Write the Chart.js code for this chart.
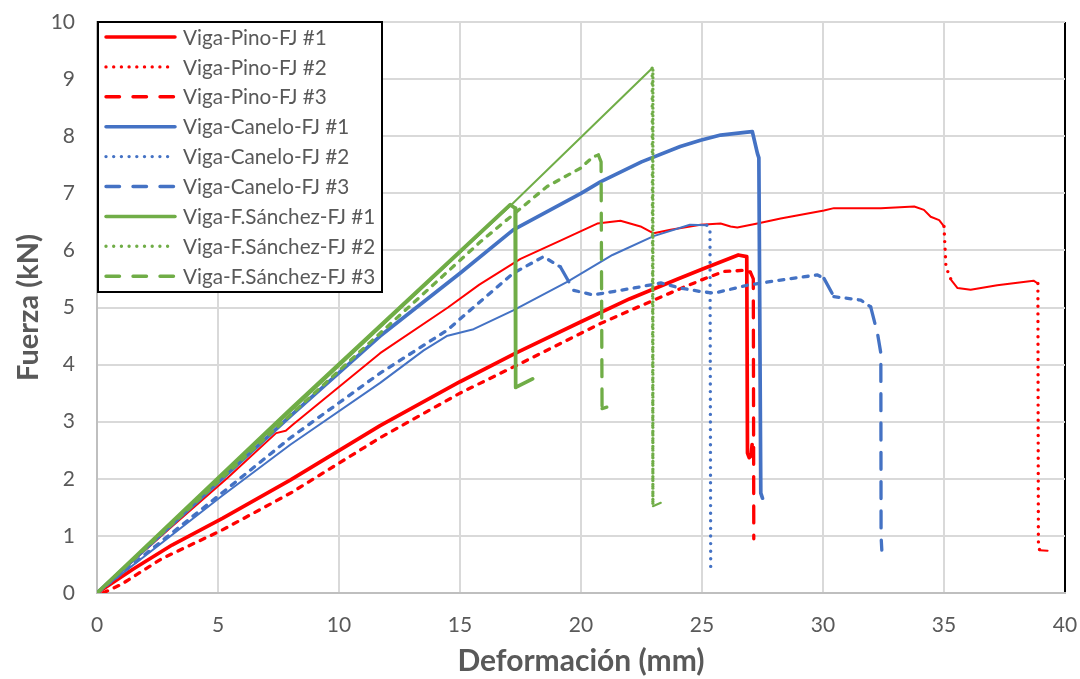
<!DOCTYPE html>
<html><head><meta charset="utf-8">
<script src="https://cdn.jsdelivr.net/npm/chart.js@4.4.1/dist/chart.umd.min.js"></script>
<style>html,body{margin:0;padding:0;background:#fff;}#wrap{width:1080px;height:679px;}</style>
</head><body><div id="wrap"><canvas id="c" width="1080" height="679"></canvas></div>
<script>
// ---- data ----
const seriesLabels = ['Viga-Pino-FJ #1','Viga-Pino-FJ #2','Viga-Pino-FJ #3',
  'Viga-Canelo-FJ #1','Viga-Canelo-FJ #2','Viga-Canelo-FJ #3',
  'Viga-F.Sánchez-FJ #1','Viga-F.Sánchez-FJ #2','Viga-F.Sánchez-FJ #3'];
const xTicks = [0,5,10,15,20,25,30,35,40];
const yTicks = [0,1,2,3,4,5,6,7,8,9,10];

const pino1X = [0,1.5,3.1,5.2,8,11.7,15,17.3,20,22,24,25,26.5,26.85,26.88,26.95,27.03,27.07];
const pino1Y = [0,0.42,0.84,1.31,1.98,2.93,3.7,4.2,4.75,5.15,5.5,5.67,5.92,5.89,2.45,2.37,2.4,2.6];

const pino2X = [0,3,5.4,7.4,7.8,8.1,11.7,14.5,15.8,17.5,19.15,20.67,21.63,22.46,23.0,23.7,24.94,25.77,26.18,26.46,27.29,28.25,30.04,30.45,32.39,33.77,34.17,34.45,34.8,35.0,35.08,35.3,35.56,36.1,37.2,38.7,38.88,38.9,38.95,39.28];
const pino2Y = [0,1.13,2.02,2.8,2.84,2.95,4.2,5.0,5.4,5.85,6.17,6.47,6.52,6.42,6.3,6.36,6.45,6.47,6.42,6.4,6.47,6.56,6.7,6.74,6.74,6.77,6.71,6.59,6.53,6.42,5.71,5.48,5.34,5.31,5.39,5.47,5.42,0.9,0.75,0.74];

const pino3X = [0.25,1,2.67,5.16,8,11.7,15,17.5,20.8,24.1,25.2,25.9,26.7,27.0,27.12,27.14];
const pino3Y = [0,0.15,0.6,1.1,1.75,2.72,3.5,4.02,4.72,5.33,5.52,5.63,5.65,5.62,5.5,0.95];

const canelo1X = [0,5.16,8,11.7,15,17.2,20,20.8,22.5,24.1,24.94,25.77,26.87,27.08,27.29,27.35,27.43,27.5];
const canelo1Y = [0,2.0,3.1,4.5,5.6,6.36,7.0,7.2,7.55,7.82,7.93,8.02,8.07,8.08,7.7,7.62,1.75,1.66];

const canelo2X = [0,2.5,5.16,8,11.7,13.5,14.45,15.56,17.2,19.43,21.3,23.0,24.5,25.2,25.33,25.36];
const canelo2Y = [0,0.82,1.7,2.6,3.68,4.25,4.5,4.62,4.95,5.45,5.92,6.25,6.45,6.44,6.35,0.44];

const canelo3X = [0,2.5,5.16,8,11.7,14.46,17.2,18.45,19.15,19.7,20.5,22.17,23.3,24.1,24.94,25.5,26.87,28.25,29.77,30.04,30.45,31.56,31.97,32.25,32.39,32.4,32.43];
const canelo3Y = [0,0.85,1.75,2.72,3.85,4.6,5.6,5.89,5.71,5.3,5.22,5.34,5.43,5.34,5.28,5.25,5.39,5.48,5.57,5.51,5.19,5.13,5.01,4.55,4.2,0.99,0.75];

const sanchez1X = [0,8,17.08,17.28,17.3,18.0];
const sanchez1Y = [0,3.22,6.8,6.74,3.6,3.75];

const sanchez2X = [0,8,17.2,20,22.94,22.97,23.3];
const sanchez2Y = [0,3.18,6.83,7.98,9.19,1.52,1.58];

const sanchez3X = [0,8,15.84,18.6,19.98,20.5,20.72,20.83,20.87,21.34];
const sanchez3Y = [0,3.12,6.15,7.12,7.44,7.64,7.67,7.55,3.23,3.29];

// ---- styling ----
const RED = '#FF0000', BLUE = '#4472C4', GREEN = '#70AD47';
const seriesX = [pino1X,pino2X,pino3X,canelo1X,canelo2X,canelo3X,sanchez1X,sanchez2X,sanchez3X];
const seriesY = [pino1Y,pino2Y,pino3Y,canelo1Y,canelo2Y,canelo3Y,sanchez1Y,sanchez2Y,sanchez3Y];
const seriesColor = [RED,RED,RED,BLUE,BLUE,BLUE,GREEN,GREEN,GREEN];
const seriesKind = ['solid','dotted','dashed','solid','dotted','dashed','solid','dotted','dashed'];

const TEXT = '#595959';
const FONT = 'Lato, "Open Sans", sans-serif';

function steep(c){
  const dx = Math.abs(c.p1.x - c.p0.x), dy = Math.abs(c.p1.y - c.p0.y);
  return dy > 1.5 * dx;
}
function makeDataset(i){
  const kind = seriesKind[i];
  const ds = {
    label: seriesLabels[i],
    data: seriesX[i].map((x,k)=>({x:x, y:seriesY[i][k]})),
    borderColor: seriesColor[i],
    backgroundColor: seriesColor[i],
    pointRadius: 0, pointHoverRadius: 0, tension: 0, fill: false,
    borderJoinStyle: 'round',
    order: 8 - i
  };
  if (kind === 'solid') {
    ds.borderWidth = 3.7; ds.borderCapStyle = 'round';
  } else if (kind === 'dotted') {
    ds.borderWidth = 2; ds.borderCapStyle = 'round';
    ds.segment = {
      borderDash: c => steep(c) ? [0, 7.6] : undefined,
      borderWidth: c => steep(c) ? 3.4 : undefined
    };
  } else {
    ds.borderWidth = 3.3; ds.borderCapStyle = 'round';
    ds.borderDash = [5, 7.3];
    ds.segment = {
      borderDash: c => steep(c) ? [17, 12.3] : undefined
    };
  }
  return ds;
}

const boxLegend = {
  id: 'boxLegend',
  afterDraw(chart){
    const ctx = chart.ctx, a = chart.chartArea;
    const L = a.left, T = a.top, W = 285, H = 270;
    ctx.save();
    ctx.fillStyle = '#fff';
    ctx.fillRect(L, T, W, H);
    ctx.strokeStyle = '#000'; ctx.lineWidth = 2;
    ctx.strokeRect(L + 1, T, W - 1, H);
    chart.data.datasets.forEach((ds, i) => {
      const y = T + 15 + i * 29.9;
      const kind = seriesKind[i];
      ctx.beginPath();
      ctx.strokeStyle = ds.borderColor;
      ctx.lineCap = 'round';
      if (kind === 'solid') { ctx.setLineDash([]); ctx.lineWidth = 3.5; }
      else if (kind === 'dotted') { ctx.setLineDash([0, 7.7]); ctx.lineWidth = 3.4; }
      else { ctx.setLineDash([13.5, 13.5]); ctx.lineWidth = 3.4; }
      ctx.moveTo(L + 9, y); ctx.lineTo(L + 78, y);
      ctx.stroke();
      ctx.setLineDash([]);
      ctx.fillStyle = TEXT;
      ctx.font = '20.7px ' + FONT;
      ctx.textBaseline = 'middle';
      ctx.textAlign = 'left';
      ctx.fillText(ds.label, L + 86, y + 1);
    });
    ctx.restore();
  }
};

function zeroPad(s){ s.paddingTop = 0; s.paddingBottom = 0; s.paddingLeft = 0; s.paddingRight = 0; }

new Chart(document.getElementById('c'), {
  type: 'line',
  data: { datasets: seriesLabels.map((_, i) => makeDataset(i)) },
  options: {
    responsive: false, animation: false, devicePixelRatio: 1,
    layout: { padding: { left: 0, right: 15, top: 22, bottom: 0 } },
    plugins: { legend: { display: false }, tooltip: { enabled: false } },
    scales: {
      x: {
        type: 'linear', min: xTicks[0], max: xTicks[xTicks.length-1],
        afterBuildTicks: s => { s.ticks = xTicks.map(v => ({value: v})); },
        afterFit: s => { s.height = 86; zeroPad(s); },
        ticks: { color: TEXT, font: { family: FONT, size: 21 }, padding: 20, maxRotation: 0 },
        grid: { drawTicks: false, lineWidth: 2,
          color: c => (c.tick && c.tick.value === 40) ? '#000' : '#D9D9D9' },
        border: { display: true, color: '#BFBFBF', width: 2 },
        title: { display: true, text: 'Deformación (mm)', color: TEXT,
          font: { family: FONT, size: 30, weight: 'bold' }, padding: { top: 0, bottom: 0 } }
      },
      y: {
        type: 'linear', min: yTicks[0], max: yTicks[yTicks.length-1],
        afterBuildTicks: s => { s.ticks = yTicks.map(v => ({value: v})); },
        afterFit: s => { s.width = 97; zeroPad(s); },
        ticks: { color: TEXT, font: { family: FONT, size: 21 }, padding: 22 },
        grid: { drawTicks: false, lineWidth: 2, color: '#D9D9D9' },
        border: { display: true, color: '#BFBFBF', width: 2 },
        title: { display: true, text: 'Fuerza (kN)', color: TEXT,
          font: { family: FONT, size: 29, weight: 'bold' }, padding: { top: 11, bottom: 0 } }
      }
    }
  },
  plugins: [boxLegend]
});
</script>
</body></html>
